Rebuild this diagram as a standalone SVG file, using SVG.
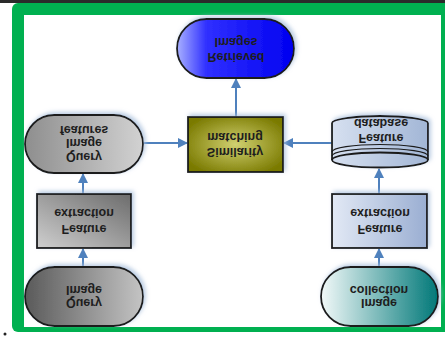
<svg xmlns="http://www.w3.org/2000/svg" width="445" height="337" viewBox="0 0 445 337">
<style>
.lbl{font-family:"Liberation Sans",Arial,sans-serif;font-weight:bold;font-size:12.5px;fill:#1e1e1e;text-anchor:middle}
.edge{stroke:#4f81bd;stroke-width:2;fill:none}
.nodeline{stroke:#1a1a1a;stroke-width:1.8}
</style>
<defs>
<filter id="sh" x="-20%" y="-20%" width="140%" height="140%">
<feDropShadow dx="2" dy="-2" stdDeviation="2" flood-color="#a9c0dc" flood-opacity="0.8"/>
</filter>
<marker id="ah" viewBox="0 0 10 10" refX="9" refY="5" markerWidth="5" markerHeight="5" orient="auto">
<path d="M0,0 L10,5 L0,10 Z" fill="#4f81bd"/>
</marker>
<linearGradient id="gBlue" x1="0" y1="0" x2="1" y2="0">
<stop offset="0" stop-color="#a8b0ff"/><stop offset="0.25" stop-color="#3030ff"/><stop offset="1" stop-color="#0000f0"/>
</linearGradient>
<radialGradient id="gOlive" cx="0.5" cy="0.5" r="0.6">
<stop offset="0" stop-color="#d0d070"/><stop offset="1" stop-color="#7a7a00"/>
</radialGradient>
<linearGradient id="gGrey1" x1="0" y1="0" x2="1" y2="0">
<stop offset="0" stop-color="#8e8e8e"/><stop offset="1" stop-color="#d2d2d2"/>
</linearGradient>
<linearGradient id="gGrey2" x1="0" y1="1" x2="1" y2="0">
<stop offset="0" stop-color="#cfcfcf"/><stop offset="1" stop-color="#6c6c6c"/>
</linearGradient>
<linearGradient id="gGrey3" x1="0" y1="0" x2="1" y2="0">
<stop offset="0" stop-color="#5a5a5a"/><stop offset="1" stop-color="#c4c4c4"/>
</linearGradient>
<linearGradient id="gLBlue" x1="0" y1="0" x2="1" y2="0">
<stop offset="0" stop-color="#e2e9f5"/><stop offset="1" stop-color="#9aaed2"/>
</linearGradient>
<linearGradient id="gDb" x1="0" y1="0" x2="1" y2="0">
<stop offset="0" stop-color="#d6e0f0"/><stop offset="1" stop-color="#a2b6d6"/>
</linearGradient>
<linearGradient id="gTeal" x1="0" y1="0" x2="1" y2="0">
<stop offset="0" stop-color="#f2f9f9"/><stop offset="1" stop-color="#007878"/>
</linearGradient>
</defs>

<rect x="0" y="0" width="445" height="337" fill="#ffffff"/>
<rect x="0" y="0" width="445" height="3" fill="#2a2a2a"/>
<rect x="12" y="3" width="445" height="329" rx="6" fill="#00b050"/>
<rect x="24" y="15" width="417" height="312" fill="#ffffff"/>
<circle cx="5" cy="334" r="1.5" fill="#222"/>

<g id="connectors">
<line class="edge" x1="236" y1="117" x2="236" y2="79" marker-end="url(#ah)"/>
<line class="edge" x1="143" y1="143" x2="187" y2="143" marker-end="url(#ah)"/>
<line class="edge" x1="332" y1="143" x2="284" y2="143" marker-end="url(#ah)"/>
<line class="edge" x1="83" y1="194" x2="83" y2="174" marker-end="url(#ah)"/>
<line class="edge" x1="379" y1="194" x2="379" y2="169" marker-end="url(#ah)"/>
<line class="edge" x1="83" y1="267" x2="83" y2="249" marker-end="url(#ah)"/>
<line class="edge" x1="379" y1="267" x2="379" y2="249" marker-end="url(#ah)"/>
</g>

<g id="retrieved">
<rect class="nodeline" x="177" y="19" width="117" height="59" rx="29.5" fill="url(#gBlue)" filter="url(#sh)"/>
<text class="lbl" transform="translate(236,57) scale(1,-1)" y="4.5">Retrieved</text>
<text class="lbl" transform="translate(236,42) scale(1,-1)" y="4.5">Images</text>
</g>

<g id="similarity">
<rect class="nodeline" x="188" y="117" width="95" height="55" fill="url(#gOlive)" filter="url(#sh)"/>
<text class="lbl" transform="translate(235,152) scale(1,-1)" y="4.5">Similarity</text>
<text class="lbl" transform="translate(235,137) scale(1,-1)" y="4.5">matching</text>
</g>

<g id="queryfeatures">
<rect class="nodeline" x="25" y="115" width="118" height="58" rx="29" fill="url(#gGrey1)" filter="url(#sh)"/>
<text class="lbl" transform="translate(84,157) scale(1,-1)" y="4.5">Query</text>
<text class="lbl" transform="translate(84,143) scale(1,-1)" y="4.5">Image</text>
<text class="lbl" transform="translate(84,130) scale(1,-1)" y="4.5">features</text>
</g>

<g id="featuredb">
<path class="nodeline" d="M332,123 A48,7 0 0 1 428,123 L428,160 A48,7.5 0 0 1 332,160 Z" fill="url(#gDb)" filter="url(#sh)"/>
<path class="nodeline" d="M332,160 A48,7.5 0 0 1 428,160" fill="none"/>
<path d="M332,156 A48,7.5 0 0 1 428,156 M332,152 A48,7.5 0 0 1 428,152" stroke="#1a1a1a" stroke-width="1.2" fill="none"/>
<text class="lbl" transform="translate(381,138) scale(1,-1)" y="4.5">Feature</text>
<text class="lbl" transform="translate(381,123) scale(1,-1)" y="4.5">database</text>
</g>

<g id="extractleft">
<rect class="nodeline" x="37" y="194" width="94" height="54" fill="url(#gGrey2)" filter="url(#sh)"/>
<text class="lbl" transform="translate(84,229) scale(1,-1)" y="4.5">Feature</text>
<text class="lbl" transform="translate(84,213) scale(1,-1)" y="4.5">extraction</text>
</g>

<g id="extractright">
<rect class="nodeline" x="332" y="194" width="95" height="54" fill="url(#gLBlue)" filter="url(#sh)"/>
<text class="lbl" transform="translate(380,229) scale(1,-1)" y="4.5">Feature</text>
<text class="lbl" transform="translate(380,213) scale(1,-1)" y="4.5">extraction</text>
</g>

<g id="queryimage">
<rect class="nodeline" x="25" y="267" width="118" height="59" rx="29.5" fill="url(#gGrey3)" filter="url(#sh)"/>
<text class="lbl" transform="translate(84,303) scale(1,-1)" y="4.5">Query</text>
<text class="lbl" transform="translate(84,290) scale(1,-1)" y="4.5">Image</text>
</g>

<g id="imagecollection">
<rect class="nodeline" x="321" y="267" width="117" height="59" rx="29.5" fill="url(#gTeal)" filter="url(#sh)"/>
<text class="lbl" transform="translate(379,303) scale(1,-1)" y="4.5">Image</text>
<text class="lbl" transform="translate(379,290) scale(1,-1)" y="4.5">collection</text>
</g>
</svg>
